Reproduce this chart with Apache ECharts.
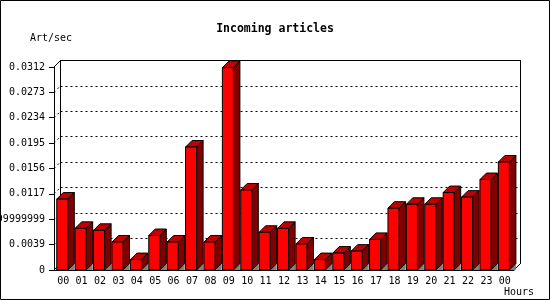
<!DOCTYPE html>
<html><head><meta charset="utf-8">
<script src="https://cdn.jsdelivr.net/npm/echarts@6/dist/echarts.min.js"></script>
<style>html,body{margin:0;padding:0;background:#fff}#c{width:550px;height:300px}</style>
</head><body><div id="c"></div>
<script>
var hours = ['00','01','02','03','04','05','06','07','08','09','10','11','12','13','14','15','16','17','18','19','20','21','22','23','00'];
var articlesPerSec = [0.0109,0.0064,0.0061,0.0043,0.0016,0.0053,0.0043,0.0189,0.0043,0.0311,0.0123,0.0058,0.0064,0.0040,0.0016,0.0026,0.0029,0.0047,0.0095,0.0101,0.0101,0.0119,0.0112,0.0139,0.0166];
var yTickValues = [0,0.0039,0.0078,0.0117,0.0156,0.0195,0.0234,0.0273,0.0312];
var yTickLabels = ['0','0.0039','0.00779999999999','0.0117','0.0156','0.0195','0.0234','0.0273','0.0312'];
var titleText = 'Incoming articles';
var yUnit = 'Art/sec';
var xName = 'Hours';

var Y_MIN = 0, Y_MAX = 0.0312, Y_STEP = 0.0039;
var DEPTH = 6.5;
var MONO = '"DejaVu Sans Mono", "Liberation Mono", monospace';

var chart = echarts.init(document.getElementById('c'), null, {renderer: 'canvas'});

function renderBar(params, api) {
  var i = api.value(0), v = api.value(1);
  var top = api.coord([i, v]), base = api.coord([i, 0]);
  var band = api.size([1, 0])[0];
  var w = band * 0.6;
  var xl = top[0] - band * 0.35, xr = xl + w;
  var yt = top[1], yb = base[1], d = DEPTH;
  return {type: 'group', children: [
    {type: 'polygon', shape: {points: [[xr, yb], [xr + d, yb - d], [xr + d, yb]]}, style: {fill: '#808080'}},
    {type: 'polygon', shape: {points: [[xr, yt], [xr + d, yt - d], [xr + d, yb - d], [xr, yb]]}, style: {fill: '#800000', stroke: '#000', lineWidth: 1}},
    {type: 'polygon', shape: {points: [[xl, yt], [xl + d, yt - d], [xr + d, yt - d], [xr, yt]]}, style: {fill: '#c00000', stroke: '#000', lineWidth: 1}},
    {type: 'rect', shape: {x: xl, y: yt, width: w, height: yb - yt}, style: {fill: '#ff0000', stroke: '#000', lineWidth: 1}}
  ]};
}

// frame connectors: [side(0 left,1 right), value, dashed]
var frameEdges = [[0, Y_MAX, 0], [0, Y_MIN, 0], [1, Y_MIN, 0]];
for (var k = 1; k < yTickValues.length - 1; k++) frameEdges.push([0, yTickValues[k], 1]);

function renderEdge(params, api) {
  var side = api.value(0), v = api.value(1), dashed = api.value(2);
  var band = api.size([1, 0])[0];
  var idx = side === 0 ? 0 : hours.length - 1;
  var p = api.coord([idx, v]);
  var x = side === 0 ? p[0] - band / 2 : p[0] + band / 2;
  return {type: 'line', shape: {x1: x, y1: p[1], x2: x + DEPTH, y2: p[1] - DEPTH},
    style: {stroke: '#000', lineWidth: 1, lineDash: dashed ? [2, 3] : null}};
}

var option = {
  animation: false,
  backgroundColor: '#fff',
  title: {text: titleText, left: 'center', top: 18,
    textStyle: {fontFamily: MONO, fontSize: 11.5, fontWeight: 'bold', color: '#000'}},
  grid: [
    {left: 54, right: 36, top: 67, bottom: 30, containLabel: false, outerBoundsMode: 'none'},
    {left: 60.5, right: 29.5, top: 60.5, bottom: 36.5, containLabel: false, outerBoundsMode: 'none'}
  ],
  xAxis: [
    {type: 'category', gridIndex: 0, data: hours,
      axisLine: {lineStyle: {color: '#000', width: 1}},
      axisTick: {length: 4, lineStyle: {color: '#000'}},
      axisLabel: {fontFamily: MONO, fontSize: 10, color: '#000', margin: 6, interval: 0}},
    {type: 'category', gridIndex: 1, data: hours, position: 'top',
      axisLine: {show: true, onZero: false, lineStyle: {color: '#000', width: 1}},
      axisTick: {show: false}, axisLabel: {show: false}}
  ],
  yAxis: [
    {type: 'value', gridIndex: 0, min: Y_MIN, max: Y_MAX, interval: Y_STEP,
      axisLine: {show: true, lineStyle: {color: '#000'}},
      axisTick: {show: true, length: 5, lineStyle: {color: '#000'}},
      splitLine: {show: false},
      axisLabel: {fontFamily: MONO, fontSize: 10, color: '#000', margin: 9,
        formatter: function (v) { return yTickLabels[Math.round(v / Y_STEP)]; }}},
    {type: 'value', gridIndex: 1, min: Y_MIN, max: Y_MAX, interval: Y_STEP,
      axisLine: {show: true, onZero: false, lineStyle: {color: '#000'}},
      axisTick: {show: false}, axisLabel: {show: false},
      splitLine: {show: true, showMinLine: false, showMaxLine: false, lineStyle: {color: '#000', type: [2, 3], width: 1}}},
    {type: 'value', gridIndex: 1, position: 'right', min: Y_MIN, max: Y_MAX, interval: Y_STEP,
      axisLine: {show: true, onZero: false, lineStyle: {color: '#000'}},
      axisTick: {show: false}, axisLabel: {show: false}, splitLine: {show: false}}
  ],
  graphic: [
    {type: 'rect', shape: {x: 0.5, y: 0.5, width: 549, height: 299}, style: {fill: null, stroke: '#000', lineWidth: 1}, z: 100},
    {type: 'text', left: 30, top: 33, style: {text: yUnit, font: '10px ' + MONO, fill: '#000'}},
    {type: 'text', left: 504, top: 287, style: {text: xName, font: '10px ' + MONO, fill: '#000'}}
  ],
  series: [
    {type: 'custom', name: 'frame', xAxisIndex: 0, yAxisIndex: 0, renderItem: renderEdge, data: frameEdges, z: 1, silent: true},
    {type: 'custom', name: 'Incoming articles', xAxisIndex: 0, yAxisIndex: 0, renderItem: renderBar, z: 5,
      data: articlesPerSec.map(function (v, i) { return [i, v]; })}
  ]
};
chart.setOption(option);
</script></body></html>
